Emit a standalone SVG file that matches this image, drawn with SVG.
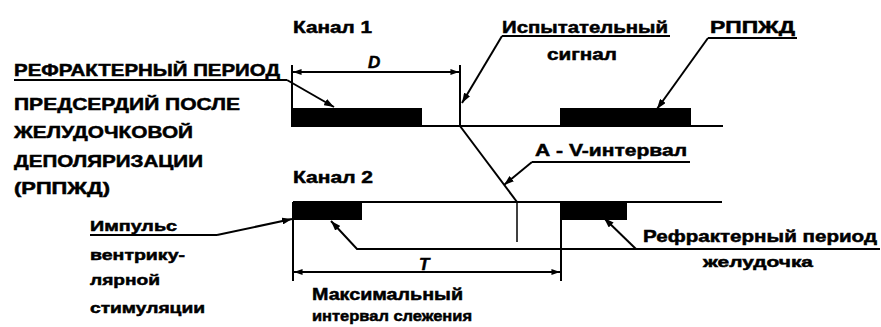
<svg xmlns="http://www.w3.org/2000/svg" width="881" height="327" viewBox="0 0 881 327">
<defs>
<marker id="ah" viewBox="0 0 10 7" refX="10" refY="3.5" markerWidth="10" markerHeight="7" markerUnits="userSpaceOnUse" orient="auto-start-reverse"><path d="M0,0 L10,3.5 L0,7 z" fill="#000"/></marker>
<marker id="dh" viewBox="0 0 10 7" refX="10" refY="3.5" markerWidth="11" markerHeight="6" markerUnits="userSpaceOnUse" orient="auto-start-reverse"><path d="M0,0 L10,3.5 L0,7 z" fill="#000"/></marker>
<style>
text{font-family:"Liberation Sans","Arial",sans-serif;font-weight:bold;fill:#000;font-size:17px;stroke:#000;stroke-width:0.5}
.it{font-style:italic}
.sm{font-size:15px}
.ln{stroke:#000;stroke-width:2;fill:none}
.th{stroke:#000;stroke-width:1.5;fill:none}
.blk{fill:#000}
</style>
</defs>
<rect width="881" height="327" fill="#fff"/>

<g id="channel1">
<text x="293" y="33" textLength="79" lengthAdjust="spacingAndGlyphs">Канал 1</text>
<line class="ln" x1="292" y1="126" x2="723" y2="126"/>
<rect class="blk" x="292" y="108" width="130" height="19"/>
<rect class="blk" x="560" y="108" width="131" height="19"/>
<line class="ln" x1="292" y1="65" x2="292" y2="127"/>
<line class="ln" x1="460" y1="65" x2="460" y2="127"/>
</g>

<g id="channel2">
<text x="293" y="183" textLength="80" lengthAdjust="spacingAndGlyphs">Канал 2</text>
<line class="ln" x1="293" y1="202" x2="722" y2="202"/>
<rect class="blk" x="293" y="202" width="69" height="18"/>
<rect class="blk" x="560" y="202" width="67" height="18"/>
<line class="ln" x1="293" y1="202" x2="293" y2="281"/>
<line class="ln" x1="561" y1="202" x2="561" y2="281"/>
</g>

<g id="label-arp">
<text x="14" y="76" textLength="266" lengthAdjust="spacingAndGlyphs">РЕФРАКТЕРНЫЙ ПЕРИОД</text>
<line class="ln" x1="14" y1="80" x2="287" y2="80"/>
<text x="14" y="110" textLength="226" lengthAdjust="spacingAndGlyphs">ПРЕДСЕРДИЙ ПОСЛЕ</text>
<text x="14" y="138" textLength="179" lengthAdjust="spacingAndGlyphs">ЖЕЛУДОЧКОВОЙ</text>
<text x="14" y="167" textLength="189" lengthAdjust="spacingAndGlyphs">ДЕПОЛЯРИЗАЦИИ</text>
<text x="14" y="194" textLength="96" lengthAdjust="spacingAndGlyphs">(РППЖД)</text>
</g>

<g id="label-test">
<text x="502" y="33" textLength="166" lengthAdjust="spacingAndGlyphs">Испытательный</text>
<line class="ln" x1="502" y1="36" x2="670" y2="36"/>
<text x="547" y="60" textLength="70" lengthAdjust="spacingAndGlyphs">сигнал</text>
</g>

<g id="label-rppzhd">
<text x="710" y="33" textLength="85" lengthAdjust="spacingAndGlyphs">РППЖД</text>
<line class="ln" x1="708" y1="38" x2="797" y2="38"/>
</g>

<g id="label-D"><text class="it" x="368" y="68">D</text></g>
<g id="label-T"><text class="it" x="419" y="270">T</text></g>

<g id="label-av">
<text x="535" y="156" textLength="152" lengthAdjust="spacingAndGlyphs">А - V-интервал</text>
<line class="ln" x1="532" y1="162" x2="690" y2="162"/>
</g>

<g id="label-pulse">
<text class="sm" x="90" y="231" textLength="87" lengthAdjust="spacingAndGlyphs">Импульс</text>
<line class="ln" x1="90" y1="235" x2="217" y2="235"/>
<text class="sm" x="90" y="260" textLength="95" lengthAdjust="spacingAndGlyphs">вентрику-</text>
<text class="sm" x="90" y="285" textLength="70" lengthAdjust="spacingAndGlyphs">лярной</text>
<text class="sm" x="90" y="313" textLength="115" lengthAdjust="spacingAndGlyphs">стимуляции</text>
</g>

<g id="label-vrp">
<text x="643" y="242" textLength="234" lengthAdjust="spacingAndGlyphs">Рефрактерный период</text>
<text class="sm" x="703" y="267" textLength="110" lengthAdjust="spacingAndGlyphs">желудочка</text>
</g>

<g id="label-max">
<text x="312" y="300" textLength="151" lengthAdjust="spacingAndGlyphs">Максимальный</text>
<text class="sm" x="312" y="321" textLength="160" lengthAdjust="spacingAndGlyphs">интервал слежения</text>
</g>

<g id="connectors">
<line class="ln" x1="293" y1="72" x2="459" y2="72" marker-start="url(#dh)" marker-end="url(#dh)"/>
<line class="ln" x1="294" y1="272" x2="560" y2="272" marker-start="url(#dh)" marker-end="url(#dh)"/>
<line class="ln" x1="287" y1="80" x2="334" y2="107" marker-end="url(#ah)"/>
<line class="ln" x1="502" y1="36" x2="462" y2="103" marker-end="url(#ah)"/>
<line class="ln" x1="708" y1="38" x2="657" y2="109" marker-end="url(#ah)"/>
<line class="ln" x1="460" y1="126" x2="517" y2="202"/>
<line class="th" x1="517" y1="202" x2="517" y2="242"/>
<line class="ln" x1="532" y1="162" x2="504" y2="185" marker-end="url(#ah)"/>
<line class="ln" x1="217" y1="235" x2="292" y2="219" marker-end="url(#ah)"/>
<polyline class="ln" points="880,249 357,249 331,221" marker-end="url(#ah)"/>
<line class="ln" x1="636" y1="249" x2="604" y2="218" marker-end="url(#ah)"/>
</g>
</svg>
